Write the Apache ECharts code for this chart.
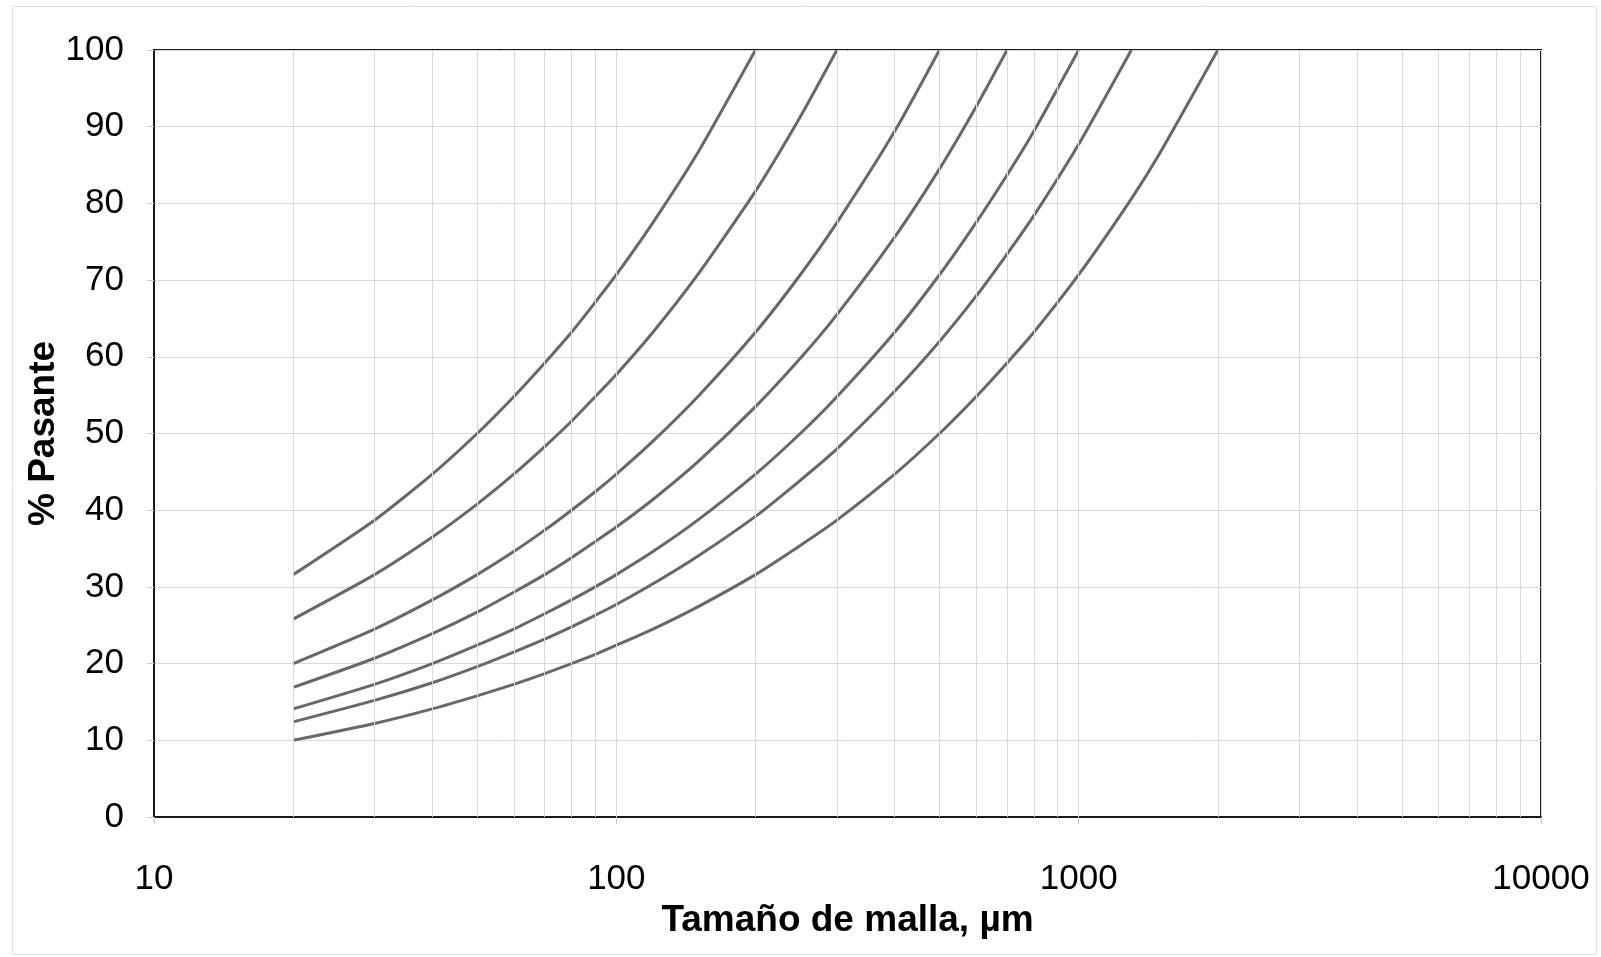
<!DOCTYPE html>
<html>
<head>
<meta charset="utf-8">
<script src="https://cdn.jsdelivr.net/npm/echarts@6/dist/echarts.min.js"></script>
<style>
html,body{margin:0;padding:0;background:#fff;}
#chart{width:1601px;height:957px;}
</style>
</head>
<body>
<div id="chart"></div>
<script>
// Mesh sizes (µm) at which the curves were read
const sizes = [20,30,40,50,60,70,80,90,100,120,150,200,250,300,400,500,600,700,800,1000,1300,1500,2000];
// % passing for each curve
const curve200  = [31.6,38.7,44.7,50.0,54.8,59.2,63.2,67.1,70.7,77.5,86.6,100];
const curve300  = [25.8,31.6,36.5,40.8,44.7,48.3,51.6,54.8,57.7,63.2,70.7,81.6,91.3,100];
const curve500  = [20.0,24.5,28.3,31.6,34.6,37.4,40.0,42.4,44.7,49.0,54.8,63.2,70.7,77.5,89.4,100];
const curve700  = [16.9,20.7,23.9,26.7,29.3,31.6,33.8,35.9,37.8,41.4,46.3,53.5,59.8,65.5,75.6,84.5,92.6,100];
const curve1000 = [14.1,17.3,20.0,22.4,24.5,26.5,28.3,30.0,31.6,34.6,38.7,44.7,50.0,54.8,63.2,70.7,77.5,83.7,89.4,100];
const curve1300 = [12.4,15.2,17.5,19.6,21.5,23.2,24.8,26.3,27.7,30.4,34.0,39.2,43.9,48.0,55.5,62.0,67.9,73.4,78.4,87.7,100];
const curve2000 = [10.0,12.2,14.1,15.8,17.3,18.7,20.0,21.2,22.4,24.5,27.4,31.6,35.4,38.7,44.7,50.0,54.8,59.2,63.2,70.7,80.6,86.6,100];
const curves = [curve200, curve300, curve500, curve700, curve1000, curve1300, curve2000];
// Log grid lines (minor + major) on the x axis
const xGridLines = [20,30,40,50,60,70,80,90,100,200,300,400,500,600,700,800,900,1000,2000,3000,4000,5000,6000,7000,8000,9000];
const xTickLabels = [10,100,1000,10000];
const yTicks = [0,10,20,30,40,50,60,70,80,90,100];

const FONT = '"Liberation Sans", Arial, sans-serif';
const series = curves.map((vals, i) => ({
  type: 'line',
  data: vals.map((v, j) => [sizes[j], v]),
  showSymbol: false,
  smooth: 0.2,
  lineStyle: {color: '#686868', width: 3},
  silent: true,
  z: 3
}));
series.push({
  type: 'line',
  data: [],
  silent: true,
  markLine: {
    silent: true,
    symbol: ['none','none'],
    label: {show: false},
    lineStyle: {color: '#d9d9d9', width: 1, type: 'solid'},
    data: xGridLines.map(x => ({xAxis: x}))
  },
  z: 1
});

const chart = echarts.init(document.getElementById('chart'));
chart.setOption({
  animation: false,
  backgroundColor: '#fff',
  grid: {left: 154, right: 60, top: 50, bottom: 140, show: true, borderColor: '#1a1a1a', borderWidth: 2, backgroundColor: 'transparent'},
  xAxis: {
    type: 'log', logBase: 10, min: xTickLabels[0], max: xTickLabels[xTickLabels.length-1],
    name: 'Tamaño de malla, µm', nameLocation: 'middle', nameGap: 82,
    nameTextStyle: {fontFamily: FONT, fontSize: 37, fontWeight: 'bold', color: '#000'},
    axisLine: {show: true, lineStyle: {color: '#1a1a1a', width: 2}},
    axisTick: {show: true, length: 7, lineStyle: {color: '#ccc'}},
    axisLabel: {fontFamily: FONT, fontSize: 35, color: '#000', margin: 45, formatter: v => String(Math.round(v))},
    splitLine: {show: true, lineStyle: {color: '#d9d9d9', width: 1}}
  },
  yAxis: {
    type: 'value', min: yTicks[0], max: yTicks[yTicks.length-1], interval: 10,
    name: '% Pasante', nameLocation: 'middle', nameGap: 92, nameMoveOverlap: false,
    nameTextStyle: {fontFamily: FONT, fontSize: 37, fontWeight: 'bold', color: '#000'},
    axisLine: {show: true, lineStyle: {color: '#1a1a1a', width: 2}},
    axisTick: {show: true, length: 7, inside: false, lineStyle: {color: '#ccc'}},
    axisLabel: {fontFamily: FONT, fontSize: 35, color: '#000', margin: 30},
    splitLine: {show: true, lineStyle: {color: '#d9d9d9', width: 1}}
  },
  graphic: [{
    type: 'rect', silent: true, z: -1,
    shape: {x: 12.5, y: 6.5, width: 1584, height: 948},
    style: {fill: 'none', stroke: '#e0e0e0', lineWidth: 1}
  }],
  series: series
});
</script>
</body>
</html>
